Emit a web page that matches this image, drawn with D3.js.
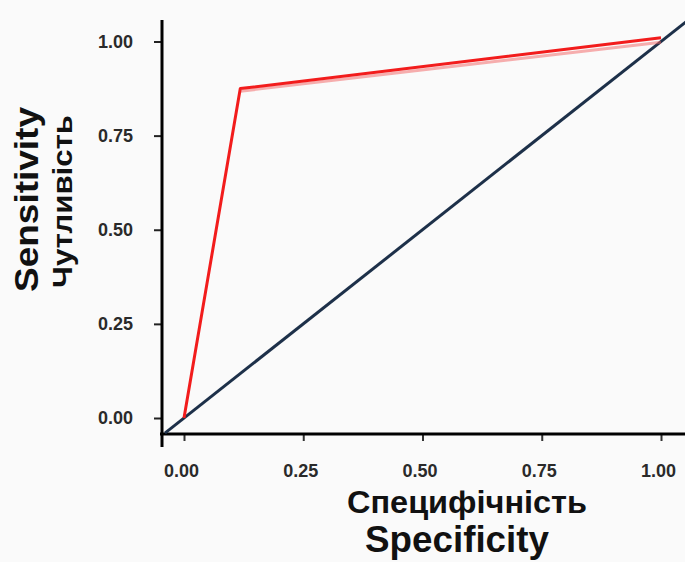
<!DOCTYPE html>
<html>
<head>
<meta charset="utf-8">
<script src="https://cdn.jsdelivr.net/npm/d3@7"></script>
<style>
  body { margin: 0; background: #fafafa; }
  svg { display: block; font-family: "Liberation Sans", Arial, sans-serif; }
</style>
</head>
<body>
<div id="chart"></div>
<script>
var rocX = [0.0, 0.118, 1.0];
var rocY = [0.0, 0.875, 1.01];
var rocX2 = [0.118, 1.0];
var rocY2 = [0.868, 0.998];
var diagX = [-0.04, 1.08];
var tickValues = [0, 0.25, 0.5, 0.75, 1];

var width = 685, height = 562;
var svg = d3.select("#chart").append("svg")
    .attr("width", width)
    .attr("height", height)
    .style("background", "#fafafa");

var x = d3.scaleLinear().domain([0, 1]).range([184, 661]);
var y = d3.scaleLinear().domain([0, 1]).range([418, 41.5]);

var axisX = 162, axisY = 434;

// clip for the diagonal
svg.append("clipPath").attr("id", "clip")
  .append("rect").attr("x", axisX).attr("y", 18).attr("width", width - axisX).attr("height", axisY - 18);

// Y axis
var gy = svg.append("g").attr("transform", "translate(" + axisX + ",0)")
    .call(d3.axisLeft(y).tickValues(tickValues).tickFormat(d3.format(".2f")).tickSize(8).tickPadding(21));
gy.select(".domain").remove();
gy.selectAll(".tick line").attr("stroke", "#222").attr("stroke-width", 2);
gy.selectAll(".tick text").attr("fill", "#2a2a2a").style("font-size", "18px").style("font-weight", "bold");
svg.append("line").attr("x1", axisX).attr("x2", axisX).attr("y1", 20).attr("y2", 447)
    .attr("stroke", "#000").attr("stroke-width", 3);

// X axis
var gx = svg.append("g").attr("transform", "translate(0," + axisY + ")")
    .call(d3.axisBottom(x).tickValues(tickValues).tickFormat(d3.format(".2f")).tickSize(7).tickPadding(23));
gx.select(".domain").remove();
gx.selectAll(".tick line").attr("stroke", "#333").attr("stroke-width", 2);
gx.selectAll(".tick text").attr("fill", "#2a2a2a").style("font-size", "18px").style("font-weight", "bold")
    .attr("dx", -3);
svg.append("line").attr("x1", axisX - 2).attr("x2", width).attr("y1", axisY).attr("y2", axisY)
    .attr("stroke", "#000").attr("stroke-width", 3);

// diagonal reference
var line = d3.line().x(function(d) { return x(d[0]); }).y(function(d) { return y(d[1]); });
svg.append("path")
    .attr("clip-path", "url(#clip)")
    .attr("d", line(diagX.map(function(v) { return [v, v]; })))
    .attr("stroke", "#1d3049").attr("stroke-width", 3).attr("fill", "none");

// ROC curves
svg.append("path")
    .attr("d", line(rocX2.map(function(v, i) { return [v, rocY2[i]]; })))
    .attr("stroke", "#f26060").attr("stroke-opacity", 0.5).attr("stroke-width", 3).attr("fill", "none");
svg.append("path")
    .attr("d", line(rocX.map(function(v, i) { return [v, rocY[i]]; })))
    .attr("stroke", "#f21c1c").attr("stroke-width", 3).attr("fill", "none")
    .attr("stroke-linejoin", "round");

// Axis titles
svg.append("text").attr("transform", "translate(38,199.5) rotate(-90)")
    .attr("text-anchor", "middle").style("font-size", "34px").style("font-weight", "bold")
    .attr("textLength", 185).attr("lengthAdjust", "spacingAndGlyphs")
    .attr("fill", "#111").text("Sensitivity");
svg.append("text").attr("transform", "translate(72,201.5) rotate(-90)")
    .attr("text-anchor", "middle").style("font-size", "27px").style("font-weight", "bold")
    .attr("textLength", 173).attr("lengthAdjust", "spacingAndGlyphs")
    .attr("fill", "#111").text("Чутливість");
svg.append("text").attr("x", 467).attr("y", 513)
    .attr("text-anchor", "middle").style("font-size", "32px").style("font-weight", "bold")
    .attr("textLength", 240).attr("lengthAdjust", "spacingAndGlyphs")
    .attr("fill", "#111").text("Специфічність");
svg.append("text").attr("x", 457).attr("y", 552)
    .attr("text-anchor", "middle").style("font-size", "37px").style("font-weight", "bold")
    .attr("textLength", 184).attr("lengthAdjust", "spacingAndGlyphs")
    .attr("fill", "#111").text("Specificity");
</script>
</body>
</html>
